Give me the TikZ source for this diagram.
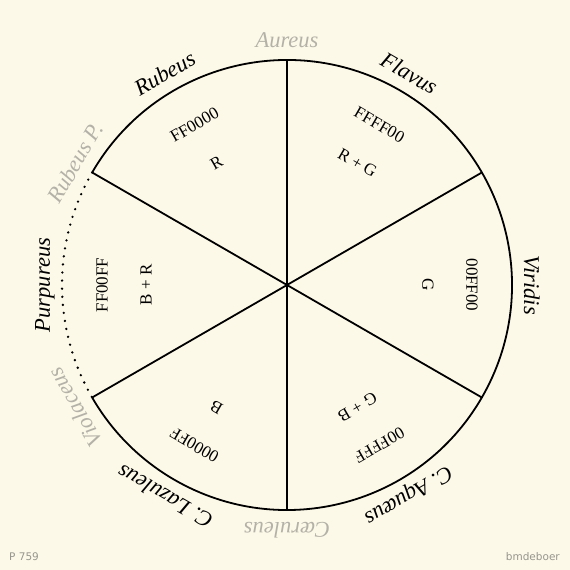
\documentclass[tikz,border=0pt]{standalone}
\usepackage{fontspec}
\setmainfont{Liberation Serif}
\newfontfamily\signfont{DejaVu Sans}
\usepackage{tikz}

\definecolor{paper}{RGB}{253,249,232}
\definecolor{palename}{RGB}{180,178,168}
\definecolor{signgray}{RGB}{150,150,142}

\begin{document}
\begin{tikzpicture}[
  wheel/.style={line width=1.8pt, line join=round},
  rimdots/.style={line width=2.6pt, line cap=round, dash pattern=on 0pt off 8.1pt},
  hexcode/.style={font=\fontsize{17}{17}\selectfont, inner sep=0pt},
  mixlabel/.style={font=\fontsize{17}{17}\selectfont, inner sep=0pt},
  rimname/.style={font=\itshape\fontsize{22.5}{24}\selectfont, inner sep=0pt, anchor=base},
  palename/.style={rimname, text=palename},
  sign/.style={font=\signfont\fontsize{10.5}{11}\selectfont, text=signgray, inner sep=0pt}]

\def \rwheel{225pt}
\def \rname{237pt}
\def \rhex{185pt}
\def \rmix{141pt}

% paper
\fill[paper] (0pt, 0pt) rectangle (570pt, 570pt);
\useasboundingbox (0pt, 0pt) rectangle (570pt, 570pt);

\begin{scope}[shift={(287pt, 285pt)}]
\coordinate (c) at (0pt, 0pt);

% spokes from top clockwise
\draw[wheel] (c) -- (90:\rwheel);
\draw[wheel] (c) -- (30:\rwheel);
\draw[wheel] (c) -- (-30:\rwheel);
\draw[wheel] (c) -- (-90:\rwheel);
\draw[wheel] (c) -- (210:\rwheel);
\draw[wheel] (c) -- (150:\rwheel);

% rim: solid part, then the dotted gap on the left
\draw[wheel] (150:\rwheel) arc[start angle=150, end angle=-150, radius=\rwheel];
\draw[rimdots] (150:\rwheel) arc[start angle=150, end angle=210, radius=\rwheel];

% colour codes and mixtures, sector by sector
\node[hexcode, rotate=30]    (hexred)     at (120:\rhex) {FF0000};
\node[mixlabel, rotate=30]   (mixred)     at (120:\rmix) {R};
\node[hexcode, rotate=-30]   (hexyellow)  at (60:\rhex)  {FFFF00};
\node[mixlabel, rotate=-30]  (mixyellow)  at (60:\rmix)  {R + G};
\node[hexcode, rotate=-90]   (hexgreen)   at (0:\rhex)   {00FF00};
\node[mixlabel, rotate=-90]  (mixgreen)   at (0:\rmix)   {G};
\node[hexcode, rotate=-150]  (hexcyan)    at (-60:\rhex) {00FFFF};
\node[mixlabel, rotate=-150] (mixcyan)    at (-60:\rmix) {G + B};
\node[hexcode, rotate=150]   (hexblue)    at (240:\rhex) {0000FF};
\node[mixlabel, rotate=150]  (mixblue)    at (240:\rmix) {B};
\node[hexcode, rotate=90]    (hexmagenta) at (180:\rhex) {FF00FF};
\node[mixlabel, rotate=90]   (mixmagenta) at (180:\rmix) {B + R};

% names round the rim, clockwise from the top
\node[palename, rotate=0]    (aureus)    at (90:\rname)  {Aureus};
\node[rimname, rotate=-30]   (flavus)    at (60:\rname)  {Flavus};
\node[rimname, rotate=-90]   (viridis)   at (0:\rname)   {Viridis};
\node[rimname, rotate=-150]  (aquaeus)   at (-60:\rname) {C. Aquæus};
\node[palename, rotate=180]  (caeruleus) at (-90:\rname) {Cæruleus};
\node[rimname, rotate=150]   (lazuleus)  at (240:\rname) {C. Lazuleus};
\node[palename, rotate=120]  (violaceus) at (210:\rname) {Violaceus};
\node[rimname, rotate=90]    (purpureus) at (180:\rname) {Purpureus};
\node[palename, rotate=60]   (rubeusp)   at (150:\rname) {Rubeus P.};
\node[rimname, rotate=30]    (rubeus)    at (120:\rname) {Rubeus};
\end{scope}

% page number and signature
\node[sign, anchor=base west] (pagenum) at (9pt, 9.3pt)   {P 759};
\node[sign, anchor=base east] (author)  at (560pt, 9.3pt) {bmdeboer};

\end{tikzpicture}
\end{document}
